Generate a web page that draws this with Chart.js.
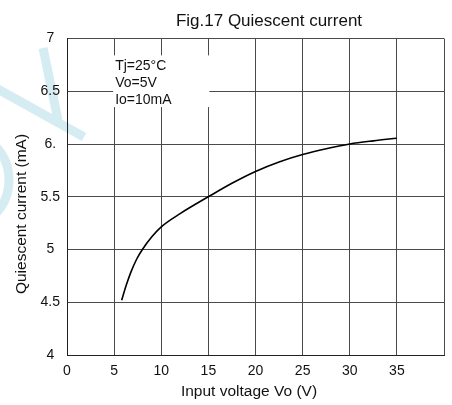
<!DOCTYPE html>
<html>
<head>
<meta charset="utf-8">
<script src="https://cdn.jsdelivr.net/npm/chart.js@4/dist/chart.umd.min.js"></script>
<style>
  html, body { margin: 0; padding: 0; background: #fff; }
  #wrap { width: 452px; height: 405px; position: relative; }
</style>
</head>
<body>
<div id="wrap"><canvas id="chart"></canvas></div>
<script>
// Fig.17 — quiescent current vs input voltage (datasheet curve).

const voltage = [5.8, 6.3, 6.8, 7.4, 8, 9, 10, 12, 15, 17.5, 20, 22.5, 25, 27.5, 30, 32.5, 35];
const current = [4.52, 4.665, 4.79, 4.91, 5.0, 5.12, 5.215, 5.34, 5.5, 5.628, 5.74, 5.83, 5.9, 5.955, 6.0, 6.03, 6.055];

const xTickValues = [0, 5, 10, 15, 20, 25, 30, 35];
const xTickLabels = ['0', '5', '10', '15', '20', '25', '30', '35'];
const yTickValues = [4, 4.5, 5, 5.5, 6, 6.5, 7];
const yTickLabels = ['4', '4.5', '5', '5.5', '6.', '6.5', '7'];

const noteLines = ['Tj=25°C', 'Vo=5V', 'Io=10mA'];

const FONT = '"Liberation Sans", Arial, sans-serif';
const GRID = '#4a4a4a';

const points = voltage.map((v, i) => ({ x: v, y: current[i] }));

function lookup(values, labels, v) {
    const i = values.findIndex((t) => Math.abs(t - v) < 1e-6);
    return i === -1 ? '' : labels[i];
}

// Title, axis titles, condition note and the faint logo watermark.
const decor = {
    id: 'decor',
    beforeDraw(chart) {
        // watermark sits under everything else
        const { ctx } = chart;
        ctx.save();
        ctx.strokeStyle = '#d5ecf3';
        ctx.lineWidth = 9;
        ctx.beginPath();
        ctx.moveTo(43, 48);
        ctx.lineTo(58, 120);
        ctx.moveTo(-4, 88);
        ctx.lineTo(84, 137);
        ctx.stroke();
        ctx.beginPath();
        ctx.arc(-40, 180, 49, -Math.PI / 2, Math.PI / 2);
        ctx.stroke();
        ctx.restore();
    },
    beforeDatasetsDraw(chart) {
        const { ctx, scales } = chart;
        const xs = scales.x;
        const ys = scales.y;
        const left = xs.getPixelForValue(5) - 1;
        const right = xs.getPixelForValue(15) + 1;
        const top = ys.getPixelForValue(6.84);
        const bottom = ys.getPixelForValue(6.35);
        ctx.save();
        ctx.fillStyle = '#fff';
        ctx.fillRect(left, top, right - left, bottom - top);
        ctx.fillStyle = '#111';
        ctx.font = '14px ' + FONT;
        ctx.textAlign = 'left';
        ctx.textBaseline = 'middle';
        noteLines.forEach((line, i) => {
            ctx.fillText(line, left + 2, top + 11 + i * 17);
        });
        ctx.restore();
    },
    afterDraw(chart) {
        const { ctx } = chart;
        ctx.save();
        ctx.fillStyle = '#111';
        ctx.textAlign = 'center';
        ctx.textBaseline = 'middle';

        ctx.font = '17px ' + FONT;
        ctx.fillText('Fig.17 Quiescent current', 269, 21.5);

        ctx.font = '15.5px ' + FONT;
        ctx.fillText('Input voltage Vo (V)', 249, 391.5);

        ctx.translate(21.5, 214);
        ctx.rotate(-Math.PI / 2);
        ctx.fillText('Quiescent current (mA)', 0, 0);
        ctx.restore();
    },
};

new Chart(document.getElementById('chart'), {
    type: 'line',
    data: {
        datasets: [
            {
                data: points,
                borderColor: '#000',
                borderWidth: 1.6,
                pointRadius: 0,
                fill: false,
                cubicInterpolationMode: 'monotone',
            },
        ],
    },
    options: {
        responsive: true,
        maintainAspectRatio: false,
        animation: false,
        layout: { padding: { top: 38.5, right: 3, left: 0, bottom: 0 } },
        plugins: {
            legend: { display: false },
            tooltip: { enabled: false },
            title: { display: false },
        },
        scales: {
            x: {
                type: 'linear',
                min: 0,
                max: 40,
                afterFit: (s) => { s.height = 50; },
                ticks: {
                    stepSize: 5,
                    autoSkip: false,
                    maxRotation: 0,
                    padding: 8,
                    color: '#111',
                    font: { family: FONT, size: 14 },
                    callback: (v) => lookup(xTickValues, xTickLabels, v),
                },
                grid: { color: GRID, lineWidth: 1, drawTicks: false },
                border: { display: true, color: '#222', width: 1 },
            },
            y: {
                type: 'linear',
                min: 4,
                max: 7,
                afterFit: (s) => { s.width = 67; },
                ticks: {
                    stepSize: 0.5,
                    autoSkip: false,
                    padding: 7,
                    crossAlign: 'center',
                    color: '#111',
                    font: { family: FONT, size: 14 },
                    callback: (v) => lookup(yTickValues, yTickLabels, v),
                },
                grid: { color: GRID, lineWidth: 1, drawTicks: false },
                border: { display: true, color: '#222', width: 1 },
            },
        },
    },
    plugins: [decor],
});
</script>
</body>
</html>
